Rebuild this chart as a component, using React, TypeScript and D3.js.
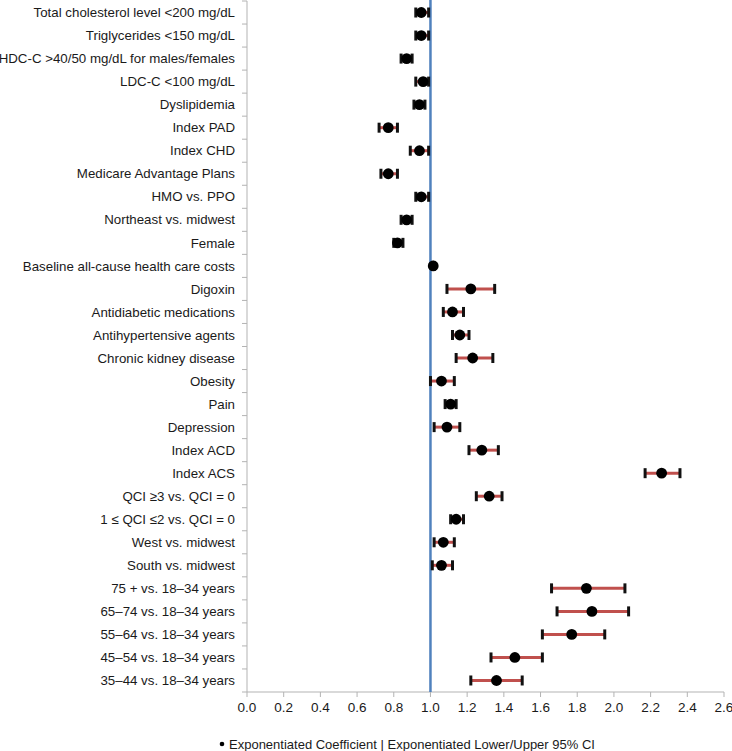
import React from "react";
import * as d3 from "d3";

const categories = [
  "Total cholesterol level <200 mg/dL",
  "Triglycerides <150 mg/dL",
  "HDC-C >40/50 mg/dL for males/females",
  "LDC-C <100 mg/dL",
  "Dyslipidemia",
  "Index PAD",
  "Index CHD",
  "Medicare Advantage Plans",
  "HMO vs. PPO",
  "Northeast vs. midwest",
  "Female",
  "Baseline all-cause health care costs",
  "Digoxin",
  "Antidiabetic medications",
  "Antihypertensive agents",
  "Chronic kidney disease",
  "Obesity",
  "Pain",
  "Depression",
  "Index ACD",
  "Index ACS",
  "QCI \u22653 vs. QCI = 0",
  "1 \u2264 QCI \u22642 vs. QCI = 0",
  "West vs. midwest",
  "South vs. midwest",
  "75 + vs. 18\u201334 years",
  "65\u201374 vs. 18\u201334 years",
  "55\u201364 vs. 18\u201334 years",
  "45\u201354 vs. 18\u201334 years",
  "35\u201344 vs. 18\u201334 years",
];

const coef = [0.95, 0.95, 0.87, 0.96, 0.94, 0.77, 0.94, 0.77, 0.95, 0.87, 0.82, 1.015, 1.22, 1.12, 1.16, 1.23, 1.06, 1.11, 1.09, 1.28, 2.26, 1.32, 1.14, 1.07, 1.06, 1.85, 1.88, 1.77, 1.46, 1.36];
const lower = [0.92, 0.92, 0.84, 0.92, 0.91, 0.72, 0.89, 0.73, 0.92, 0.84, 0.80, 1.01, 1.09, 1.07, 1.12, 1.14, 1.0, 1.08, 1.02, 1.21, 2.17, 1.25, 1.11, 1.02, 1.01, 1.66, 1.69, 1.61, 1.33, 1.22];
const upper = [0.99, 0.99, 0.90, 0.99, 0.97, 0.82, 0.99, 0.82, 0.99, 0.90, 0.85, 1.02, 1.35, 1.18, 1.21, 1.34, 1.13, 1.14, 1.16, 1.37, 2.36, 1.39, 1.18, 1.13, 1.12, 2.06, 2.08, 1.95, 1.61, 1.50];

const xTicks = d3.range(0, 2.61, 0.2);
const refValue = 1.0;
const legendText = "Exponentiated Coefficient | Exponentiated Lower/Upper 95% CI";

export default function App() {
  const W = 732, H = 751;
  const left = 247, right = 724, top = 1, bottom = 692;
  const x = d3.scaleLinear().domain([0, 2.6]).range([left, right]);
  const y = d3.scaleBand().domain(categories).range([top, bottom]);
  const bw = y.bandwidth();
  const font = "'Liberation Sans', Arial, sans-serif";
  const axisColor = "#b3b3b3";

  return (
    <svg width={W} height={H} style={{ position: "absolute", left: 0, top: 0, background: "#fff" }} fontFamily={font}>
      {/* y axis */}
      <line x1={left} x2={left} y1={top} y2={bottom} stroke={axisColor} strokeWidth={1} />
      {d3.range(categories.length + 1).map((i) => (
        <line key={"yt" + i} x1={left - 5} x2={left} y1={top + i * bw} y2={top + i * bw} stroke={axisColor} strokeWidth={1} />
      ))}
      {categories.map((c) => (
        <text key={c} x={235} y={(y(c) as number) + bw / 2} dy="0.35em" textAnchor="end" fontSize={13.3} fill="#1a1a1a">
          {c}
        </text>
      ))}
      {/* x axis */}
      <line x1={left} x2={right} y1={bottom} y2={bottom} stroke={axisColor} strokeWidth={1} />
      {xTicks.map((t) => (
        <g key={"xt" + t}>
          <line x1={x(t)} x2={x(t)} y1={bottom} y2={bottom + 5} stroke={axisColor} strokeWidth={1} />
          <text x={x(t)} y={711.5} textAnchor="middle" fontSize={13.5} fill="#1a1a1a">
            {t.toFixed(1)}
          </text>
        </g>
      ))}
      {/* reference line */}
      <line x1={x(refValue)} x2={x(refValue)} y1={0} y2={bottom} stroke="#4f81bd" strokeWidth={2.5} />
      {/* error bars and markers */}
      {categories.map((c, i) => {
        const cy = (y(c) as number) + bw / 2;
        return (
          <g key={"m" + i}>
            <line x1={x(lower[i])} x2={x(upper[i])} y1={cy} y2={cy} stroke="#c0504d" strokeWidth={3} />
            <line x1={x(lower[i])} x2={x(lower[i])} y1={cy - 5} y2={cy + 5} stroke="#111" strokeWidth={3} />
            <line x1={x(upper[i])} x2={x(upper[i])} y1={cy - 5} y2={cy + 5} stroke="#111" strokeWidth={3} />
            <circle cx={x(coef[i])} cy={cy} r={5.4} fill="#000" />
          </g>
        );
      })}
      {/* legend */}
      <circle cx={222} cy={744} r={2.3} fill="#000" />
      <text x={229} y={748.5} fontSize={13} fill="#1a1a1a">
        {legendText}
      </text>
    </svg>
  );
}
